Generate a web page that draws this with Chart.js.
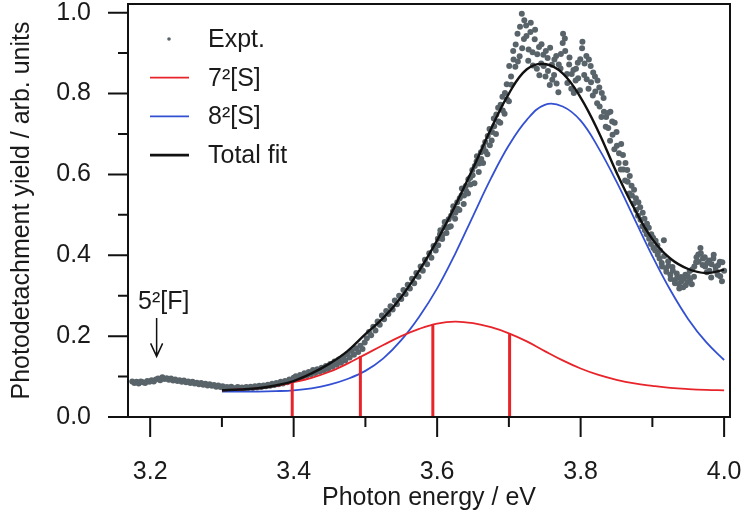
<!DOCTYPE html>
<html>
<head>
<meta charset="utf-8">
<script src="https://cdn.jsdelivr.net/npm/chart.js@4.4.1/dist/chart.umd.min.js"></script>
<style>
  html, body { margin: 0; padding: 0; background: #fff; }
  #wrap { width: 743px; height: 517px; }
</style>
</head>
<body>
<div id="wrap"><canvas id="chart" width="743" height="517"></canvas></div>
<script>
// axis ticks
const xTicks = [3.2, 3.4, 3.6, 3.8, 4.0];
const xMinor = [3.3, 3.5, 3.7, 3.9];
const yTicks = [0.0, 0.2, 0.4, 0.6, 0.8, 1.0];
const yMinor = [0.1, 0.3, 0.5, 0.7, 0.9];

const exptX = [
  3.175,3.178,3.181,3.184,3.187,3.190,3.193,3.196,3.199,3.202,3.205,3.208,3.211,3.214,3.217,3.220,3.223,3.226,3.229,3.232,3.235,3.238,3.241,3.244,3.247,3.250,3.253,3.256,3.259,3.262,3.265,3.268,3.271,3.274,3.277,3.280,3.283,3.286,3.289,3.292,3.295,3.298,
  3.301,3.304,3.307,3.310,3.313,3.316,3.319,3.322,3.325,3.328,3.331,3.334,3.337,3.340,3.343,3.346,3.349,3.352,3.355,3.358,3.361,3.364,3.367,3.370,3.373,3.376,3.379,3.382,3.385,3.388,3.391,3.394,3.397,
  3.400,3.403,3.406,3.409,3.412,3.415,3.418,3.421,3.424,3.427,3.430,3.433,3.436,3.439,3.442,3.445,3.448,3.451,3.454,3.457,3.460,3.463,3.466,3.469,3.472,3.475,3.478,3.481,3.484,3.487,3.490,3.493,3.496,3.499,
  3.502,3.505,3.508,3.511,3.514,3.517,3.520,3.523,3.526,3.529,3.532,3.535,3.538,3.541,3.544,3.547,3.550,3.553,3.556,3.559,3.562,3.565,3.568,3.571,3.574,3.577,3.580,3.583,3.586,3.589,3.592,3.595,3.598,3.601,
  3.604,3.607,3.610,3.613,3.616,3.619,3.622,3.625,3.628,3.631,3.634,3.637,3.640,3.643,3.646,3.649,3.652,3.655,3.658,3.661,3.664,3.667,3.670,3.673,3.676,3.679,3.682,3.685,3.688,3.691,3.694,3.697,3.700,
  3.703,3.706,3.709,3.712,3.715,3.718,3.721,3.724,3.727,3.730,3.733,3.736,3.739,3.742,3.745,3.748,3.751,3.754,3.757,3.760,3.763,3.766,3.769,3.772,3.775,3.778,3.781,3.784,3.787,3.790,3.793,3.796,3.799,
  3.802,3.805,3.808,3.811,3.814,3.817,3.820,3.823,3.826,3.829,3.832,3.835,3.838,3.841,3.844,3.847,3.850,3.853,3.856,3.859,3.862,3.865,3.868,3.871,3.874,3.877,3.880,3.883,3.886,3.889,3.892,3.895,3.898,
  3.901,3.904,3.907,3.910,3.913,3.916,3.919,3.922,3.925,3.928,3.931,3.934,3.937,3.940,3.943,3.946,3.949,3.952,3.955,3.958,3.961,3.964,3.967,3.970,3.973,3.976,3.979,3.982,3.985,3.988,3.991,3.994,3.997,4.000
];
const exptY = [
  0.088,0.084,0.087,0.083,0.088,0.086,0.084,0.089,0.087,0.091,0.088,0.093,0.095,0.091,0.098,0.094,0.096,0.092,0.095,0.090,0.093,0.089,0.091,0.087,0.090,0.086,0.088,0.084,0.087,0.083,0.085,0.081,0.084,0.080,0.082,0.078,0.081,0.077,0.079,0.075,0.078,0.074,
  0.076,0.072,0.074,0.071,0.075,0.072,0.070,0.074,0.071,0.073,0.070,0.074,0.072,0.075,0.072,0.076,0.073,0.077,0.074,0.078,0.076,0.080,0.077,0.082,0.079,0.084,0.081,0.087,0.083,0.089,0.086,0.093,0.090,
  0.097,0.101,0.094,0.104,0.099,0.108,0.102,0.111,0.105,0.116,0.109,0.118,0.112,0.122,0.115,0.126,0.119,0.131,0.124,0.137,0.129,0.142,0.134,0.148,0.140,0.155,0.147,0.163,0.154,0.170,0.161,0.176,0.168,0.184,
  0.195,0.210,0.202,0.223,0.214,0.236,0.228,0.251,0.242,0.262,0.255,0.274,0.266,0.288,0.279,0.300,0.292,0.314,0.304,0.327,0.318,0.342,0.331,0.356,0.347,0.372,0.362,0.389,0.378,0.405,0.394,0.423,0.412,0.441,
  0.452,0.440,0.470,0.455,0.489,0.472,0.508,0.490,0.531,0.512,0.548,0.527,0.571,0.553,0.592,0.611,0.578,0.632,0.606,0.655,0.628,0.680,0.650,0.712,0.684,0.738,0.700,0.765,0.728,0.792,0.750,0.823,0.781,
  0.842,0.905,0.866,0.948,0.892,0.997,0.935,0.968,0.881,0.952,0.902,0.934,0.861,0.915,0.874,0.896,0.842,0.888,0.821,0.871,0.846,0.893,0.803,0.862,0.925,0.936,0.848,0.872,0.812,0.858,0.832,0.876,0.808,
  0.912,0.846,0.893,0.812,0.868,0.795,0.842,0.776,0.815,0.742,0.789,0.718,0.752,0.683,0.731,0.662,0.705,0.628,0.612,0.648,0.585,0.611,0.553,0.572,0.528,0.541,0.498,0.519,0.472,0.490,0.452,0.468,0.428,
  0.443,0.412,0.425,0.392,0.381,0.437,0.368,0.385,0.352,0.371,0.338,0.355,0.329,0.346,0.321,0.352,0.334,0.361,0.328,0.347,0.383,0.402,0.418,0.376,0.395,0.358,0.387,0.345,0.392,0.371,0.352,0.384,0.336,0.362
];
// second pass, interleaved, over the noisy upper part
const exptX2 = [
  3.6015,3.6045,3.6075,3.6105,3.6135,3.6165,3.6195,3.6225,3.6255,3.6285,3.6315,3.6345,3.6375,3.6405,3.6435,3.6465,3.6495,3.6525,3.6555,3.6585,3.6615,3.6645,3.6675,3.6705,3.6735,3.6765,3.6795,3.6825,3.6855,3.6885,3.6915,3.6945,3.6975,
  3.7005,3.7035,3.7065,3.7095,3.7125,3.7155,3.7185,3.7215,3.7245,3.7275,3.7305,3.7335,3.7365,3.7395,3.7425,3.7455,3.7485,3.7515,3.7545,3.7575,3.7605,3.7635,3.7665,3.7695,3.7725,3.7755,3.7785,3.7815,3.7845,3.7875,3.7905,3.7935,3.7965,
  3.7995,3.8025,3.8055,3.8085,3.8115,3.8145,3.8175,3.8205,3.8235,3.8265,3.8295,3.8325,3.8355,3.8385,3.8415,3.8445,3.8475,3.8505,3.8535,3.8565,3.8595,3.8625,3.8655,3.8685,3.8715,3.8745,3.8775,3.8805,3.8835,3.8865,3.8895,3.8925,3.8955,
  3.8985,3.9015,3.9045,3.9075,3.9105,3.9135,3.9165,3.9195,3.9225,3.9255,3.9285,3.9315,3.9345,3.9375,3.9405,3.9435,3.9465,3.9495,3.9525,3.9555,3.9585,3.9615,3.9645,3.9675,3.9705,3.9735,3.9765,3.9795,3.9825,3.9855,3.9885,3.9915,3.9945,3.9975
];
const exptY2 = [
  0.425,0.462,0.451,0.482,0.468,0.470,0.498,0.521,0.505,0.515,0.541,0.565,0.548,0.559,0.588,0.575,0.598,0.621,0.645,0.627,0.638,0.668,0.657,0.695,0.672,0.705,0.719,0.748,0.731,0.772,0.758,0.801,0.785,
  0.868,0.822,0.884,0.921,0.879,0.965,0.912,0.981,0.942,0.909,0.975,0.869,0.958,0.897,0.845,0.922,0.868,0.905,0.856,0.913,0.834,0.884,0.825,0.872,0.898,0.948,0.905,0.826,0.889,0.848,0.801,0.861,0.838,
  0.885,0.928,0.874,0.835,0.884,0.828,0.852,0.805,0.832,0.768,0.801,0.755,0.742,0.715,0.755,0.698,0.728,0.671,0.652,0.675,0.612,0.628,0.582,0.596,0.548,0.562,0.512,0.531,0.488,0.505,0.462,0.478,0.441,
  0.452,0.418,0.436,0.401,0.412,0.372,0.398,0.359,0.374,0.341,0.362,0.331,0.344,0.318,0.336,0.342,0.326,0.348,0.339,0.365,0.372,0.395,0.384,0.405,0.392,0.372,0.381,0.362,0.378,0.401,0.362,0.375,0.348,0.383
];

// fitted components on a common energy grid
const fitX = [3.300,3.325,3.350,3.375,3.400,3.425,3.450,3.475,3.500,3.525,3.550,3.575,3.600,3.625,3.650,3.675,3.700,3.725,3.750,3.775,3.800,3.825,3.850,3.875,3.900,3.925,3.950,3.975,4.000];
const redY = [0.066,0.068,0.071,0.077,0.086,0.097,0.112,0.132,0.155,0.178,0.200,0.218,0.231,0.236,0.232,0.222,0.207,0.187,0.163,0.140,0.120,0.104,0.092,0.083,0.077,0.072,0.069,0.067,0.066];
const blueY = [0.063,0.063,0.063,0.064,0.066,0.071,0.080,0.094,0.114,0.145,0.190,0.248,0.318,0.403,0.497,0.590,0.672,0.735,0.772,0.768,0.733,0.665,0.582,0.490,0.398,0.314,0.242,0.185,0.141];
const totalY = [0.066,0.068,0.071,0.078,0.089,0.108,0.132,0.163,0.205,0.245,0.297,0.362,0.437,0.522,0.615,0.712,0.800,0.860,0.873,0.850,0.790,0.705,0.605,0.515,0.440,0.392,0.366,0.356,0.364];

// stick spectrum of the 7^2[S] component
const stickX = [3.398, 3.493, 3.594, 3.701];
const stickY = [0.084, 0.151, 0.230, 0.207];

const seriesNames = ['Expt.', '7\u00b2[S]', '8\u00b2[S]', 'Total fit'];
const arrowLabel = '5\u00b2[F]';
const arrowAt = { x: 3.209, top: 0.245, tip: 0.15, textX: 3.219, textY: 0.284 };

const dotColor = '#59646a';
const redColor = '#e8242b';
const blueColor = '#3350d2';
const blackColor = '#111111';
const FONT = "'Liberation Sans', Arial, Helvetica, sans-serif";

Chart.defaults.font.family = FONT;
Chart.defaults.color = '#1a1a1a';

const pts = (xs, ys) => xs.map((x, i) => ({ x: x, y: ys[i] }));
const noPad = s => { s.paddingLeft = 0; s.paddingRight = 0; s.paddingTop = 0; s.paddingBottom = 0; };

const stickSets = stickX.map((x, i) => ({
  label: 'stick' + i,
  data: [{ x: x, y: 0 }, { x: x, y: stickY[i] }],
  showLine: true,
  borderColor: redColor,
  borderWidth: 3,
  pointRadius: 0,
  order: 0
}));

// frame, tick marks, legend and the arrow label
const decorations = {
  id: 'decorations',
  afterDraw(chart) {
    const { ctx, chartArea: a, scales: { x, y } } = chart;
    ctx.save();
    ctx.strokeStyle = blackColor;
    ctx.lineWidth = 2;
    ctx.strokeRect(a.left, a.top, a.right - a.left, a.bottom - a.top);
    ctx.beginPath();
    xTicks.forEach(v => { const p = x.getPixelForValue(v); ctx.moveTo(p, a.bottom); ctx.lineTo(p, a.bottom + 20); });
    xMinor.forEach(v => { const p = x.getPixelForValue(v); ctx.moveTo(p, a.bottom); ctx.lineTo(p, a.bottom + 10); });
    yTicks.forEach(v => { const p = y.getPixelForValue(v); ctx.moveTo(a.left, p); ctx.lineTo(a.left - 20, p); });
    yMinor.forEach(v => { const p = y.getPixelForValue(v); ctx.moveTo(a.left, p); ctx.lineTo(a.left - 10, p); });
    ctx.stroke();

    // legend
    const rows = [
      { kind: 'dot', color: dotColor },
      { kind: 'line', color: redColor, w: 1.8 },
      { kind: 'line', color: blueColor, w: 1.8 },
      { kind: 'line', color: blackColor, w: 2.6 }
    ];
    ctx.font = '25px ' + FONT;
    ctx.textBaseline = 'middle';
    ctx.textAlign = 'left';
    rows.forEach((r, i) => {
      const ly = a.top + 35 + i * 38.7;
      if (r.kind === 'dot') {
        ctx.fillStyle = dotColor;
        ctx.beginPath();
        ctx.arc(a.left + 41, ly, 1.8, 0, Math.PI * 2);
        ctx.fill();
      } else {
        ctx.strokeStyle = r.color;
        ctx.lineWidth = r.w;
        ctx.beginPath();
        ctx.moveTo(a.left + 22, ly);
        ctx.lineTo(a.left + 61, ly);
        ctx.stroke();
      }
      ctx.fillStyle = '#1a1a1a';
      ctx.fillText(seriesNames[i], a.left + 80, ly + 1);
    });

    // 5^2[F] marker
    const ax = x.getPixelForValue(arrowAt.x);
    const aTop = y.getPixelForValue(arrowAt.top);
    const aTip = y.getPixelForValue(arrowAt.tip);
    ctx.strokeStyle = blackColor;
    ctx.lineWidth = 1.5;
    ctx.beginPath();
    ctx.moveTo(ax, aTop);
    ctx.lineTo(ax, aTip);
    ctx.moveTo(ax - 6, aTip - 13);
    ctx.lineTo(ax, aTip);
    ctx.lineTo(ax + 6, aTip - 13);
    ctx.stroke();
    ctx.textAlign = 'center';
    ctx.fillStyle = '#1a1a1a';
    ctx.fillText(arrowLabel, x.getPixelForValue(arrowAt.textX), y.getPixelForValue(arrowAt.textY));
    ctx.restore();
  }
};

new Chart(document.getElementById('chart'), {
  type: 'scatter',
  data: {
    datasets: [
      ...stickSets,
      {
        label: seriesNames[3],
        data: pts(fitX, totalY),
        showLine: true,
        borderColor: blackColor,
        borderWidth: 2.4,
        pointRadius: 0,
        tension: 0.4,
        order: 1
      },
      {
        label: seriesNames[1],
        data: pts(fitX, redY),
        showLine: true,
        borderColor: redColor,
        borderWidth: 1.8,
        pointRadius: 0,
        tension: 0.4,
        order: 2
      },
      {
        label: seriesNames[2],
        data: pts(fitX, blueY),
        showLine: true,
        borderColor: blueColor,
        borderWidth: 1.8,
        pointRadius: 0,
        tension: 0.4,
        order: 3
      },
      {
        label: seriesNames[0],
        data: pts(exptX, exptY).concat(pts(exptX2, exptY2)),
        pointRadius: 3,
        pointBackgroundColor: dotColor,
        pointBorderWidth: 0,
        order: 4
      }
    ]
  },
  options: {
    responsive: false,
    animation: false,
    devicePixelRatio: 1,
    layout: { padding: { top: 3, right: 13, left: 0, bottom: 0 } },
    plugins: {
      legend: { display: false },
      tooltip: { enabled: false }
    },
    scales: {
      x: {
        type: 'linear',
        min: 3.1691,
        max: 4.0082,
        afterBuildTicks: s => { s.ticks = xTicks.map(v => ({ value: v })); },
        afterFit: s => { s.height = 100; noPad(s); },
        grid: { display: false, drawTicks: false },
        border: { display: false },
        ticks: { padding: 40, font: { size: 25 }, color: '#1a1a1a', maxRotation: 0, autoSkip: false, callback: v => v.toFixed(1) },
        title: { display: true, text: 'Photon energy / eV', font: { size: 25 }, color: '#1a1a1a', padding: { top: 0, bottom: 4 } }
      },
      y: {
        type: 'linear',
        min: 0,
        max: 1.0214,
        afterBuildTicks: s => { s.ticks = yTicks.map(v => ({ value: v })); },
        afterFit: s => { s.width = 128; noPad(s); },
        grid: { display: false, drawTicks: false },
        border: { display: false },
        ticks: { padding: 37, font: { size: 25 }, color: '#1a1a1a', autoSkip: false, callback: v => v.toFixed(1) },
        title: { display: true, text: 'Photodetachment yield / arb. units', font: { size: 25 }, color: '#1a1a1a', padding: { top: 7, bottom: 0 } }
      }
    }
  },
  plugins: [decorations]
});
</script>
</body>
</html>
